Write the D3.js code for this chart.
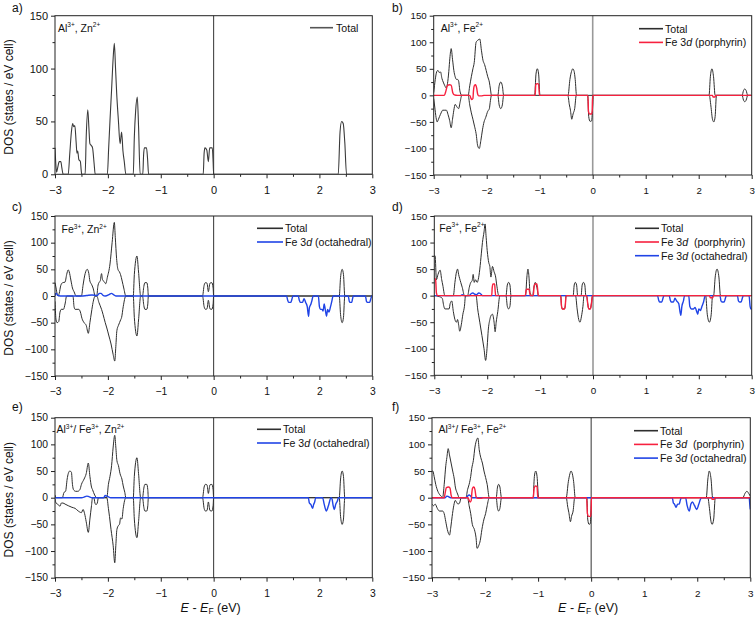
<!DOCTYPE html>
<html><head><meta charset="utf-8">
<script src="https://cdn.jsdelivr.net/npm/d3@7"></script>
<style>
body{margin:0;background:#fff}
svg{display:block}
text{font-family:"Liberation Sans",Arial,Helvetica,sans-serif;fill:#111;white-space:pre}
</style></head>
<body><svg id="chart" width="756" height="617"></svg>
<script>
// ---------- data (E in eV, DOS in states / eV cell) ----------
const E_TICKS = [-3,-2,-1,0,1,2,3];
const E_MINOR = [-2.5,-1.5,-0.5,0.5,1.5,2.5];
const DOS_TICKS_A = [0,50,100,150];
const DOS_MINOR_A = [25,75,125];
const DOS_TICKS = [-150,-100,-50,0,50,100,150];
const DOS_MINOR = [-125,-75,-25,25,75,125];

// a) Al3+, Zn2+
const aTotal = [[-3,25],[-2.985,10],[-2.97,2],[-2.95,6],[-2.92,12],[-2.89,12],[-2.87,6],[-2.845,0],[-2.75,0],[-2.72,20],[-2.69,40],[-2.666,48],[-2.645,45],[-2.625,46],[-2.60,30],[-2.585,20],[-2.57,22],[-2.55,14],[-2.52,12],[-2.505,4],[-2.495,0],[-2.43,0],[-2.41,35],[-2.38,61],[-2.36,45],[-2.34,29],[-2.31,27],[-2.29,25],[-2.26,10],[-2.24,0],[-2.01,0],[-1.985,25],[-1.96,51],[-1.93,80],[-1.90,110],[-1.878,124],[-1.855,100],[-1.834,77],[-1.80,50],[-1.77,29],[-1.74,40],[-1.715,22],[-1.69,12],[-1.66,0],[-1.52,0],[-1.50,35],[-1.475,60],[-1.444,73],[-1.42,45],[-1.39,0],[-1.34,0],[-1.325,18],[-1.31,25],[-1.27,25],[-1.25,15],[-1.23,0],[-0.197,0],[-0.18,20],[-0.165,25],[-0.13,23],[-0.10,12],[-0.075,25],[-0.026,25],[-0.01,12],[0,0],[2.356,0],[2.39,40],[2.42,50],[2.45,48],[2.48,30],[2.513,0],[3,0]];

// b) Al3+, Fe2+
const bUp = [[-3,5],[-2.97,30],[-2.945,44],[-2.92,47],[-2.895,43],[-2.87,44],[-2.845,32],[-2.82,25],[-2.79,18],[-2.765,14],[-2.74,22],[-2.715,45],[-2.695,70],[-2.67,88],[-2.645,68],[-2.62,47],[-2.595,35],[-2.57,30],[-2.55,30],[-2.53,27],[-2.505,8],[-2.47,0],[-2.35,0],[-2.32,18],[-2.29,35],[-2.26,50],[-2.235,62],[-2.20,100],[-2.165,104],[-2.13,106],[-2.10,85],[-2.07,66],[-2.04,58],[-2.01,47],[-1.98,35],[-1.95,25],[-1.93,12],[-1.91,0],[-1.79,0],[-1.765,18],[-1.735,25],[-1.705,18],[-1.68,0],[-1.095,0],[-1.07,40],[-1.045,50],[-1.02,40],[-0.995,0],[-0.465,0],[-0.43,30],[-0.40,45],[-0.375,50],[-0.35,45],[-0.33,30],[-0.305,0],[2.195,0],[2.22,35],[2.25,50],[2.28,35],[2.31,0],[2.82,0],[2.845,9],[2.87,12],[2.895,9],[2.925,0],[3,0]];
const bDn = [[-3,-6],[-2.98,-22],[-2.955,-42],[-2.935,-50],[-2.91,-45],[-2.89,-40],[-2.86,-33],[-2.83,-28],[-2.79,-28],[-2.76,-28],[-2.73,-36],[-2.70,-47],[-2.67,-61],[-2.645,-45],[-2.62,-28],[-2.595,-17],[-2.56,-22],[-2.53,-25],[-2.50,-12],[-2.47,0],[-2.35,0],[-2.32,-18],[-2.29,-33],[-2.26,-45],[-2.23,-58],[-2.20,-72],[-2.17,-95],[-2.14,-100],[-2.11,-85],[-2.08,-65],[-2.05,-50],[-2.02,-42],[-1.98,-30],[-1.95,-25],[-1.93,-10],[-1.91,0],[-1.79,0],[-1.765,-18],[-1.735,-25],[-1.705,-18],[-1.68,0],[-0.47,0],[-0.44,-18],[-0.42,-28],[-0.395,-45],[-0.37,-35],[-0.34,-25],[-0.31,0],[-0.095,0],[-0.075,-40],[-0.05,-49],[-0.02,-48],[0.0,-20],[0.01,0],[2.20,0],[2.23,-20],[2.26,-45],[2.285,-50],[2.31,-40],[2.335,0],[2.82,0],[2.845,-9],[2.87,-12],[2.895,-9],[2.925,0],[3,0]];
const bFeP = [[-3,0],[-2.80,0],[-2.77,8],[-2.74,19],[-2.70,20],[-2.67,19],[-2.64,5],[-2.61,1],[-2.55,0],[-2.32,0],[-2.30,-5],[-2.28,-8],[-2.26,-6],[-2.25,8],[-2.235,18],[-2.21,20],[-2.19,14],[-2.17,2],[-2.15,-1],[-2.10,-1],[-2.05,0],[-1.085,0],[-1.075,20],[-1.045,22],[-1.02,21],[-1.005,0],[-0.09,0],[-0.08,-30],[-0.06,-35],[-0.02,-35],[-0.01,-30],[0.0,0],[2.26,0],[2.27,-3],[2.31,-3],[2.32,0],[3,0]];

// c) Fe3+, Zn2+
const cUp = [[-3,25],[-2.98,15],[-2.955,2],[-2.94,0],[-2.92,5],[-2.89,20],[-2.855,25],[-2.81,26],[-2.78,40],[-2.75,49],[-2.73,45],[-2.70,30],[-2.67,15],[-2.64,8],[-2.60,0],[-2.50,0],[-2.47,20],[-2.43,42],[-2.39,50],[-2.36,42],[-2.34,28],[-2.31,22],[-2.28,15],[-2.24,0],[-2.21,0],[-2.19,18],[-2.17,25],[-2.145,28],[-2.12,42],[-2.10,30],[-2.07,27],[-2.04,23],[-2.01,35],[-1.96,60],[-1.92,100],[-1.878,138],[-1.86,110],[-1.835,70],[-1.81,50],[-1.78,45],[-1.76,40],[-1.73,28],[-1.70,15],[-1.66,0],[-1.52,0],[-1.50,40],[-1.45,75],[-1.42,45],[-1.38,0],[-1.345,0],[-1.32,18],[-1.30,25],[-1.265,25],[-1.245,15],[-1.235,0],[-0.21,0],[-0.18,20],[-0.155,25],[-0.125,24],[-0.10,8],[-0.07,24],[-0.035,25],[-0.01,15],[0,0],[2.375,0],[2.40,35],[2.43,50],[2.455,40],[2.48,0],[3,0]];
const cDn = [[-3,-10],[-2.98,-45],[-2.96,-50],[-2.93,-48],[-2.905,-30],[-2.88,-25],[-2.84,-25],[-2.81,-15],[-2.78,0],[-2.66,0],[-2.64,-20],[-2.62,-25],[-2.55,-25],[-2.52,-30],[-2.49,-42],[-2.45,-50],[-2.41,-55],[-2.37,-70],[-2.34,-50],[-2.31,-30],[-2.28,-12],[-2.24,0],[-2.21,0],[-2.17,-12],[-2.12,-25],[-2.09,-35],[-2.05,-50],[-2.02,-60],[-1.98,-75],[-1.94,-90],[-1.90,-110],[-1.87,-122],[-1.85,-95],[-1.83,-65],[-1.80,-55],[-1.78,-50],[-1.76,-45],[-1.74,-40],[-1.71,-20],[-1.66,0],[-1.52,0],[-1.50,-40],[-1.45,-75],[-1.42,-45],[-1.38,0],[-1.345,0],[-1.32,-18],[-1.30,-25],[-1.265,-25],[-1.245,-15],[-1.235,0],[-0.21,0],[-0.18,-20],[-0.155,-25],[-0.125,-24],[-0.10,-8],[-0.07,-24],[-0.035,-25],[-0.01,-15],[0,0],[2.375,0],[2.40,-35],[2.43,-50],[2.455,-40],[2.48,0],[3,0]];
const cFeO = [[-3,0],[-2.99,4],[-2.97,5],[-2.95,1],[-2.9,0],[-2.5,0],[-2.4,1],[-2.3,2],[-2.2,1],[-2.16,5],[-2.13,5],[-2.10,2],[-2.05,0],[-1.97,3],[-1.93,5],[-1.90,3],[-1.85,0],[1.38,0],[1.40,-8],[1.42,-12],[1.46,-12],[1.48,-6],[1.50,0],[1.60,0],[1.62,-8],[1.64,-12],[1.68,-12],[1.71,-5],[1.74,-12],[1.77,-20],[1.795,-38],[1.81,-22],[1.84,-15],[1.86,-8],[1.88,0],[1.98,0],[2.0,-20],[2.02,-25],[2.05,-25],[2.07,-28],[2.09,-15],[2.11,-25],[2.135,-38],[2.155,-25],[2.18,-30],[2.21,-20],[2.23,-12],[2.26,0],[2.545,0],[2.565,-10],[2.58,-12],[2.61,-12],[2.625,-6],[2.64,0],[2.87,0],[2.89,-10],[2.91,-12],[2.95,-12],[2.97,-6],[2.99,0],[3,0]];

// d) Fe3+, Fe2+
const dUp = [[-3,75],[-2.985,75],[-2.96,30],[-2.93,40],[-2.89,48],[-2.86,30],[-2.84,20],[-2.80,0],[-2.64,0],[-2.61,25],[-2.58,45],[-2.56,50],[-2.54,40],[-2.50,25],[-2.47,15],[-2.43,0],[-2.37,0],[-2.34,15],[-2.31,25],[-2.285,28],[-2.265,40],[-2.245,25],[-2.22,30],[-2.19,25],[-2.17,30],[-2.14,50],[-2.11,80],[-2.09,100],[-2.06,120],[-2.04,135],[-2.02,110],[-2.00,85],[-1.97,62],[-1.95,55],[-1.93,35],[-1.90,55],[-1.87,45],[-1.84,35],[-1.82,20],[-1.78,0],[-1.645,0],[-1.62,20],[-1.595,25],[-1.57,20],[-1.55,0],[-1.275,0],[-1.25,35],[-1.23,50],[-1.21,35],[-1.19,5],[-1.15,0],[-1.14,0],[-1.12,15],[-1.09,25],[-1.06,15],[-1.03,0],[-0.375,0],[-0.355,20],[-0.335,25],[-0.31,20],[-0.29,0],[-0.225,0],[-0.205,20],[-0.18,25],[-0.155,20],[-0.135,0],[2.28,0],[2.31,35],[2.345,50],[2.38,35],[2.41,0],[3,0]];
const dDn = [[-3,0],[-2.90,-2],[-2.85,-5],[-2.82,-20],[-2.80,-25],[-2.72,-25],[-2.70,-15],[-2.67,-10],[-2.64,-30],[-2.61,-45],[-2.58,-50],[-2.56,-45],[-2.54,-55],[-2.52,-67],[-2.49,-55],[-2.46,-35],[-2.43,-20],[-2.41,0],[-2.21,0],[-2.18,-25],[-2.14,-50],[-2.10,-75],[-2.06,-100],[-2.03,-122],[-2.00,-95],[-1.98,-65],[-1.95,-45],[-1.93,-38],[-1.90,-35],[-1.87,-50],[-1.85,-68],[-1.83,-50],[-1.80,-30],[-1.76,0],[-1.645,0],[-1.62,-20],[-1.595,-25],[-1.57,-20],[-1.55,0],[-0.61,0],[-0.595,-20],[-0.58,-25],[-0.54,-25],[-0.525,-20],[-0.51,0],[-0.33,0],[-0.30,-25],[-0.27,-45],[-0.245,-50],[-0.22,-40],[-0.19,-20],[-0.17,0],[-0.12,0],[-0.10,-15],[-0.08,-25],[-0.05,-25],[-0.03,-15],[-0.01,0],[2.13,0],[2.16,-35],[2.20,-50],[2.235,-35],[2.26,0],[3,0]];
const dFeP = [[-3,33],[-2.975,30],[-2.96,5],[-2.94,0],[-1.915,0],[-1.905,15],[-1.89,22],[-1.86,22],[-1.85,10],[-1.84,0],[-1.28,0],[-1.265,10],[-1.25,12],[-1.21,12],[-1.195,5],[-1.185,0],[-1.13,0],[-1.115,15],[-1.095,22],[-1.06,22],[-1.045,10],[-1.035,0],[-0.61,0],[-0.595,-20],[-0.58,-25],[-0.54,-25],[-0.525,-20],[-0.51,0],[-0.12,0],[-0.10,-15],[-0.08,-25],[-0.05,-25],[-0.03,-15],[-0.01,0],[2.2,0],[2.22,-4],[2.26,-4],[2.28,0],[3,0]];
const dFeO = [[-3,0],[-2.50,0],[-2.47,2],[-2.44,0],[-2.34,0],[-2.30,4],[-2.27,5],[-2.24,3],[-2.20,2],[-2.16,5],[-2.13,4],[-2.09,0],[1.22,0],[1.24,-8],[1.26,-12],[1.30,-12],[1.32,-6],[1.34,0],[1.44,0],[1.46,-8],[1.48,-12],[1.52,-12],[1.55,-5],[1.58,-10],[1.62,-15],[1.66,-37],[1.68,-20],[1.71,-10],[1.73,0],[1.81,0],[1.83,-20],[1.86,-25],[1.90,-25],[1.93,-22],[1.96,-30],[1.98,-35],[2.0,-25],[2.03,-28],[2.06,-20],[2.09,-12],[2.12,0],[2.40,0],[2.42,-10],[2.44,-12],[2.48,-12],[2.50,-6],[2.52,0],[2.73,0],[2.75,-10],[2.77,-12],[2.80,-12],[2.82,-6],[2.84,0],[2.95,0],[2.97,-20],[2.985,-25],[3,-25]];

// e) Al3+/Fe3+, Zn2+
const eUp = [[-3,5],[-2.98,0],[-2.86,0],[-2.83,10],[-2.80,12],[-2.77,35],[-2.75,45],[-2.72,50],[-2.69,48],[-2.67,25],[-2.65,15],[-2.61,12],[-2.57,12],[-2.53,15],[-2.50,25],[-2.45,35],[-2.41,45],[-2.37,65],[-2.34,40],[-2.31,20],[-2.29,15],[-2.25,5],[-2.21,0],[-2.02,0],[-1.99,25],[-1.96,40],[-1.93,60],[-1.90,95],[-1.87,117],[-1.85,95],[-1.83,70],[-1.80,60],[-1.77,45],[-1.735,35],[-1.71,22],[-1.68,10],[-1.66,0],[-1.52,0],[-1.50,40],[-1.45,75],[-1.42,45],[-1.38,0],[-1.345,0],[-1.32,18],[-1.30,25],[-1.265,25],[-1.245,15],[-1.235,0],[-0.21,0],[-0.18,20],[-0.155,25],[-0.125,24],[-0.10,8],[-0.07,24],[-0.035,25],[-0.01,15],[0,0],[2.375,0],[2.40,35],[2.43,50],[2.455,40],[2.48,0],[3,0]];
const eDn = [[-3,-2],[-2.98,-10],[-2.95,-12],[-2.905,-16],[-2.88,-10],[-2.85,-10],[-2.81,-12],[-2.75,-15],[-2.68,-18],[-2.62,-20],[-2.56,-25],[-2.50,-28],[-2.47,-22],[-2.44,-30],[-2.41,-45],[-2.37,-65],[-2.34,-40],[-2.31,-15],[-2.29,0],[-2.265,0],[-2.245,-10],[-2.225,-13],[-2.20,-10],[-2.18,0],[-2.02,0],[-1.99,-20],[-1.97,-35],[-1.94,-60],[-1.90,-90],[-1.87,-122],[-1.85,-90],[-1.83,-60],[-1.80,-52],[-1.78,-50],[-1.76,-38],[-1.735,-40],[-1.71,-20],[-1.66,0],[-1.52,0],[-1.50,-40],[-1.45,-75],[-1.42,-45],[-1.38,0],[-1.345,0],[-1.32,-18],[-1.30,-25],[-1.265,-25],[-1.245,-15],[-1.235,0],[-0.21,0],[-0.18,-20],[-0.155,-25],[-0.125,-24],[-0.10,-8],[-0.07,-24],[-0.035,-25],[-0.01,-15],[0,0],[2.375,0],[2.40,-35],[2.43,-50],[2.455,-40],[2.48,0],[3,0]];
const eFeO = [[-3,0],[-2.5,0],[-2.45,1],[-2.40,3],[-2.36,2],[-2.3,0],[-2.08,0],[-2.05,4],[-2.02,3],[-1.98,1],[-1.95,0],[1.79,0],[1.81,-10],[1.84,-13],[1.87,-20],[1.89,-13],[1.91,-8],[1.93,0],[2.06,0],[2.09,-12],[2.13,-25],[2.17,-15],[2.22,0],[2.24,-3],[2.26,-15],[2.28,-22],[2.31,-12],[2.34,-6],[2.36,0],[3,0]];

// f) Al3+/Fe3+, Fe2+
const fUp = [[-3,50],[-2.985,50],[-2.96,40],[-2.93,25],[-2.89,12],[-2.85,5],[-2.82,2],[-2.80,0],[-2.77,25],[-2.74,60],[-2.72,75],[-2.695,92],[-2.67,80],[-2.64,65],[-2.61,50],[-2.58,35],[-2.56,20],[-2.53,10],[-2.51,5],[-2.49,0],[-2.36,0],[-2.33,15],[-2.30,25],[-2.27,40],[-2.25,55],[-2.22,70],[-2.19,95],[-2.16,108],[-2.135,112],[-2.11,90],[-2.08,75],[-2.05,65],[-2.02,50],[-1.99,38],[-1.96,25],[-1.92,0],[-1.79,0],[-1.765,20],[-1.744,25],[-1.72,20],[-1.69,0],[-1.095,0],[-1.07,40],[-1.045,50],[-1.02,40],[-0.99,0],[-0.47,0],[-0.43,30],[-0.40,45],[-0.38,50],[-0.355,45],[-0.33,30],[-0.30,0],[2.17,0],[2.20,35],[2.226,50],[2.26,35],[2.29,0],[2.86,0],[2.90,8],[2.936,12],[2.97,8],[3,3]];
const fDn = [[-3,-12],[-2.97,-15],[-2.94,-12],[-2.90,-20],[-2.86,-25],[-2.80,-25],[-2.77,-30],[-2.74,-45],[-2.71,-60],[-2.67,-70],[-2.645,-55],[-2.62,-35],[-2.59,-15],[-2.56,-5],[-2.54,-8],[-2.51,-12],[-2.48,-10],[-2.45,0],[-2.33,0],[-2.30,-15],[-2.27,-30],[-2.24,-50],[-2.20,-60],[-2.17,-75],[-2.15,-95],[-2.12,-90],[-2.09,-80],[-2.06,-60],[-2.02,-40],[-1.99,-30],[-1.96,-15],[-1.92,0],[-1.79,0],[-1.765,-20],[-1.744,-25],[-1.72,-20],[-1.69,0],[-0.47,0],[-0.44,-18],[-0.42,-28],[-0.39,-45],[-0.37,-35],[-0.34,-25],[-0.31,0],[-0.08,0],[-0.065,-40],[-0.04,-50],[-0.015,-48],[0,-20],[0.01,0],[2.20,0],[2.23,-20],[2.26,-45],[2.28,-50],[2.31,-40],[2.34,0],[3,0]];
const fFeP = [[-3,0],[-2.77,0],[-2.75,10],[-2.73,19],[-2.69,20],[-2.66,18],[-2.64,5],[-2.62,0],[-2.32,0],[-2.30,-5],[-2.28,-8],[-2.26,-5],[-2.25,8],[-2.235,18],[-2.21,20],[-2.19,15],[-2.17,2],[-2.14,-1],[-2.08,-1],[-2.03,0],[-1.09,0],[-1.075,18],[-1.05,22],[-1.02,21],[-1.005,0],[-0.085,0],[-0.07,-30],[-0.05,-35],[-0.01,-35],[0.0,-25],[0.005,0],[2.27,0],[2.28,-3],[2.32,-3],[2.33,0],[3,0]];
const fFeO = [[-3,0],[-2.75,0],[-2.72,3],[-2.69,2],[-2.65,0],[-2.36,0],[-2.33,3],[-2.30,5],[-2.27,3],[-2.24,0],[1.53,0],[1.55,-10],[1.57,-12],[1.60,-18],[1.63,-12],[1.66,-12],[1.68,-5],[1.70,0],[1.78,0],[1.81,-15],[1.85,-25],[1.88,-12],[1.91,-8],[1.95,-15],[1.99,-22],[2.03,-12],[2.06,-3],[2.08,0],[2.98,0],[2.99,-12],[3,-22]];

const LEG_TOTAL = [{t:"Total"}];
const LEG_FEP = [{t:"Fe 3"},{t:"d",i:true},{t:" (porphyrin)"}];
const LEG_FEP2 = [{t:"Fe 3"},{t:"d",i:true},{t:"  (porphyrin)"}];
const LEG_FEO = [{t:"Fe 3"},{t:"d",i:true},{t:" (octahedral)"}];

// ---------- styles ----------
const C_TOTAL = "#2e2e2e", C_RED = "#f7213f", C_BLUE = "#2044e6";

const panels = [
 {lab:"a)", lx:12, ly:12, box:[55,15.7,372.3,174.3], dom:[0,150], yt:DOS_TICKS_A, ym:DOS_MINOR_A, fs:11, ylab:true,
  ann:[["Al"],["3+",1],[", Zn"],["2+",1]], annXY:[3,16], zc:"#333", zw:1,
  lines:[{d:aTotal,c:"#3a3a3a",w:1.1}],
  leg:{x1:310,x2:333,y:27.7,tx:336,items:[[LEG_TOTAL,"#555"]]}},
 {lab:"b)", lx:392, ly:12, box:[433.7,15.7,751.7,175], dom:[-150,150], yt:DOS_TICKS, ym:DOS_MINOR, fs:9.7, ylab:false,
  ann:[["Al"],["3+",1],[", Fe"],["2+",1]], annXY:[7,16], zc:"#999", zw:1.6,
  lines:[{d:bUp,c:C_TOTAL,w:1},{d:bDn,c:C_TOTAL,w:1},{d:bFeP,c:C_RED,w:1.4}],
  leg:{x1:639,x2:663,y:28.7,tx:665,items:[[LEG_TOTAL,C_TOTAL],[LEG_FEP,C_RED]]}},
 {lab:"c)", lx:12, ly:211, box:[55,216,372.3,376], dom:[-150,150], yt:DOS_TICKS, ym:DOS_MINOR, fs:10.3, ylab:true,
  ann:[["Fe"],["3+",1],[", Zn"],["2+",1]], annXY:[6.5,17], zc:"#333", zw:1,
  lines:[{d:cUp,c:C_TOTAL,w:1},{d:cDn,c:C_TOTAL,w:1},{d:cFeO,c:C_BLUE,w:1.4}],
  leg:{x1:257,x2:283,y:228.3,tx:285,items:[[LEG_TOTAL,C_TOTAL],[LEG_FEO,C_BLUE]]}},
 {lab:"d)", lx:392, ly:211, box:[434.3,216,751.7,375.3], dom:[-150,150], yt:DOS_TICKS, ym:DOS_MINOR, fs:9.9, ylab:false,
  ann:[["Fe"],["3+",1],[", Fe"],["2+",1]], annXY:[5,15.7], zc:"#999", zw:1.6,
  lines:[{d:dUp,c:C_TOTAL,w:1},{d:dDn,c:C_TOTAL,w:1},{d:dFeO,c:C_BLUE,w:1.4},{d:dFeP,c:C_RED,w:1.4}],
  leg:{x1:635,x2:659,y:228.3,tx:661,items:[[LEG_TOTAL,C_TOTAL],[LEG_FEP2,C_RED],[LEG_FEO,C_BLUE]]}},
 {lab:"e)", lx:12, ly:411, box:[55,417.7,372.3,577.7], dom:[-150,150], yt:DOS_TICKS, ym:DOS_MINOR, fs:10.3, ylab:true,
  ann:[["Al"],["3+",1],["/ Fe"],["3+",1],[", Zn"],["2+",1]], annXY:[1.5,15.6], zc:"#333", zw:1,
  lines:[{d:eUp,c:C_TOTAL,w:1},{d:eDn,c:C_TOTAL,w:1},{d:eFeO,c:C_BLUE,w:1.4}],
  leg:{x1:257,x2:281,y:429.3,tx:283,items:[[LEG_TOTAL,C_TOTAL],[LEG_FEO,C_BLUE]]}, xlab:true},
 {lab:"f)", lx:392, ly:411, box:[432,417.7,750.3,577.7], dom:[-150,150], yt:DOS_TICKS, ym:DOS_MINOR, fs:9.9, ylab:false,
  ann:[["Al"],["3+",1],["/ Fe"],["3+",1],[", Fe"],["2+",1]], annXY:[6.5,15.6], zc:"#333", zw:1,
  lines:[{d:fUp,c:C_TOTAL,w:1},{d:fDn,c:C_TOTAL,w:1},{d:fFeO,c:C_BLUE,w:1.4},{d:fFeP,c:C_RED,w:1.4}],
  leg:{x1:634,x2:658,y:430.7,tx:660,items:[[LEG_TOTAL,C_TOTAL],[LEG_FEP2,C_RED],[LEG_FEO,C_BLUE]]}, xlab:true}
];

const svg = d3.select("#chart");
svg.append("rect").attr("width",756).attr("height",617).attr("fill","#fff");
const defs = svg.append("defs");

function richText(sel, segs){
  segs.forEach(s=>{
    const ts = sel.append("tspan").text(s.t);
    if(s.i) ts.attr("font-style","italic");
  });
}

panels.forEach((p,pi)=>{
  const [L,T,R,B] = p.box;
  const x = d3.scaleLinear().domain([-3,3]).range([L,R]);
  const y = d3.scaleLinear().domain(p.dom).range([B,T]);
  const g = svg.append("g");

  defs.append("clipPath").attr("id","clip"+pi).append("rect")
    .attr("x",L).attr("y",T).attr("width",R-L).attr("height",B-T);

  // E = EF line
  g.append("line").attr("x1",x(0)).attr("x2",x(0)).attr("y1",T).attr("y2",B)
    .attr("stroke",p.zc).attr("stroke-width",p.zw);

  // curves
  const line = d3.line().x(d=>x(d[0])).y(d=>y(d[1])).curve(d3.curveMonotoneX);
  const cg = g.append("g").attr("clip-path",`url(#clip${pi})`);
  p.lines.forEach(s=>{
    cg.append("path").datum(s.d).attr("d",line).attr("fill","none")
      .attr("stroke",s.c).attr("stroke-width",s.w).attr("stroke-linejoin","round");
  });

  // frame
  g.append("rect").attr("x",L).attr("y",T).attr("width",R-L).attr("height",B-T)
    .attr("fill","none").attr("stroke","#222").attr("stroke-width",1);

  // axes
  const xa = g.append("g").attr("transform",`translate(0,${B})`)
    .call(d3.axisBottom(x).tickValues(E_TICKS).tickSize(4).tickPadding(5).tickFormat(d3.format("d")));
  const xm = g.append("g").attr("transform",`translate(0,${B})`)
    .call(d3.axisBottom(x).tickValues(E_MINOR).tickSize(2.5).tickFormat(""));
  const ya = g.append("g").attr("transform",`translate(${L},0)`)
    .call(d3.axisLeft(y).tickValues(p.yt).tickSize(4).tickPadding(3).tickFormat(d3.format("d")));
  const ym = g.append("g").attr("transform",`translate(${L},0)`)
    .call(d3.axisLeft(y).tickValues(p.ym).tickSize(2.5).tickFormat(""));
  [xa,xm,ya,ym].forEach(a=>{
    a.select(".domain").remove();
    a.selectAll("line").attr("stroke","#222");
    a.selectAll("text").attr("font-size",p.fs).attr("fill","#111")
      .attr("font-family",'"Liberation Sans",Arial,sans-serif');
  });
  xa.selectAll("text").attr("dy","1em");

  // panel label
  svg.append("text").attr("x",p.lx).attr("y",p.ly).attr("font-size",12).text(p.lab);

  // annotation with superscripts
  const an = svg.append("text").attr("x",L+p.annXY[0]).attr("y",T+p.annXY[1]).attr("font-size",10.5);
  an.selectAll("tspan").data(p.ann).enter().append("tspan")
    .text(d=>d[0])
    .attr("font-size",d=>d[1]?6.5:10.5)
    .attr("dy",(d,i)=> d[1] ? -4.5 : (i>0 && p.ann[i-1][1] ? 4.5 : 0));

  // legend
  p.leg.items.forEach((it,k)=>{
    const yy = p.leg.y + k*13.7;
    svg.append("line").attr("x1",p.leg.x1).attr("x2",p.leg.x2).attr("y1",yy).attr("y2",yy)
      .attr("stroke",it[1]).attr("stroke-width",1.6);
    const t = svg.append("text").attr("x",p.leg.tx).attr("y",yy+3.8).attr("font-size",10.6);
    richText(t,it[0]);
  });

  // y title
  if(p.ylab){
    svg.append("text").attr("transform",`translate(12.5,${(T+B)/2+2}) rotate(-90)`)
      .attr("text-anchor","middle").attr("font-size",12).text("DOS (states / eV cell)");
  }
  // x title
  if(p.xlab){
    const xt = svg.append("text").attr("x",(L+R)/2-3).attr("y",611.5).attr("text-anchor","middle").attr("font-size",12.5);
    xt.append("tspan").attr("font-style","italic").text("E");
    xt.append("tspan").text(" - ");
    xt.append("tspan").attr("font-style","italic").text("E");
    xt.append("tspan").attr("font-size",8.5).attr("dy",2.5).text("F");
    xt.append("tspan").attr("dy",-2.5).text(" (eV)");
  }
});
</script>
</body></html>
